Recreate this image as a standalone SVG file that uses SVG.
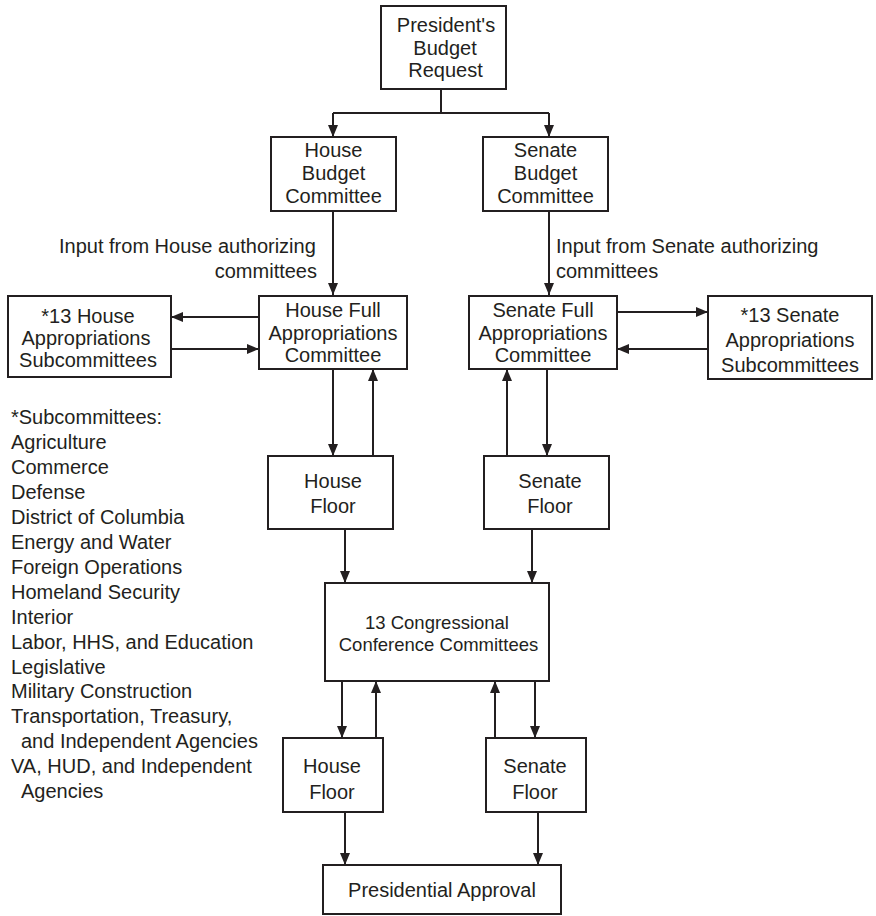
<svg xmlns="http://www.w3.org/2000/svg" width="876" height="916" viewBox="0 0 876 916">
<style>
.box{fill:#fff;stroke:#231f20;stroke-width:2}
text{font-family:"Liberation Sans",Arial,sans-serif;font-size:20px;fill:#231f20}
.c{text-anchor:middle}
.sm{font-size:18.5px}
.ln{stroke:#231f20;stroke-width:2;fill:none}
.ar{marker-end:url(#ah)}
</style>
<defs>
<marker id="ah" markerUnits="userSpaceOnUse" markerWidth="12" markerHeight="10" refX="12" refY="5" orient="auto">
<path d="M0,0 L12,5 L0,10 z" fill="#231f20"/>
</marker>
</defs>
<rect width="876" height="916" fill="#fff"/>
<g id="connectors">
<path class="ln" d="M441,89 V113 M333,113 H549"/>
<path class="ln ar" d="M333,113 V137"/>
<path class="ln ar" d="M549,113 V137"/>
<path class="ln ar" d="M333,211 V295"/>
<path class="ln ar" d="M549,211 V295"/>
<path class="ln ar" d="M259,317 H171"/>
<path class="ln ar" d="M171,349 H259"/>
<path class="ln ar" d="M617,312 H708"/>
<path class="ln ar" d="M708,349 H617"/>
<path class="ln ar" d="M333,369 V456"/>
<path class="ln ar" d="M373,456 V369"/>
<path class="ln ar" d="M507,456 V369"/>
<path class="ln ar" d="M547,369 V456"/>
<path class="ln ar" d="M345,529 V583"/>
<path class="ln ar" d="M532,529 V583"/>
<path class="ln ar" d="M342,681 V738"/>
<path class="ln ar" d="M376,738 V681"/>
<path class="ln ar" d="M495,738 V681"/>
<path class="ln ar" d="M535,681 V738"/>
<path class="ln ar" d="M345,812 V865"/>
<path class="ln ar" d="M538,812 V865"/>
</g>
<g id="president">
<rect class="box" x="381" y="6" width="125" height="83"/>
<text class="c" x="446" y="32">President's</text>
<text class="c" x="445" y="54.5">Budget</text>
<text class="c" x="445.5" y="77">Request</text>
</g>
<g id="house-budget">
<rect class="box" x="271" y="137" width="125" height="74"/>
<text class="c" x="333.5" y="157">House</text>
<text class="c" x="333.5" y="180">Budget</text>
<text class="c" x="333.5" y="203">Committee</text>
</g>
<g id="senate-budget">
<rect class="box" x="483" y="137" width="125" height="74"/>
<text class="c" x="545.5" y="157">Senate</text>
<text class="c" x="545.5" y="180">Budget</text>
<text class="c" x="545.5" y="203">Committee</text>
</g>
<g id="house-input">
<text x="59" y="253">Input from House authorizing</text>
<text x="317" y="278" text-anchor="end">committees</text>
</g>
<g id="senate-input">
<text x="556" y="253">Input from Senate authorizing</text>
<text x="556" y="278">committees</text>
</g>
<g id="house-sub">
<rect class="box" x="8" y="296" width="163" height="81"/>
<text class="c" x="88" y="323">*13 House</text>
<text class="c" x="86" y="345">Appropriations</text>
<text class="c" x="88" y="367">Subcommittees</text>
</g>
<g id="house-full">
<rect class="box" x="259" y="296" width="148" height="73"/>
<text class="c" x="333" y="317">House Full</text>
<text class="c" x="333" y="339.5">Appropriations</text>
<text class="c" x="333" y="362">Committee</text>
</g>
<g id="senate-full">
<rect class="box" x="469" y="296" width="148" height="73"/>
<text class="c" x="543" y="317">Senate Full</text>
<text class="c" x="543" y="339.5">Appropriations</text>
<text class="c" x="543" y="362">Committee</text>
</g>
<g id="senate-sub">
<rect class="box" x="708" y="296" width="164" height="83"/>
<text class="c" x="790" y="322">*13 Senate</text>
<text class="c" x="790" y="347">Appropriations</text>
<text class="c" x="790" y="372">Subcommittees</text>
</g>
<g id="house-floor-1">
<rect class="box" x="268" y="456" width="125" height="73"/>
<text class="c" x="333" y="488">House</text>
<text class="c" x="333" y="513">Floor</text>
</g>
<g id="senate-floor-1">
<rect class="box" x="484" y="456" width="125" height="73"/>
<text class="c" x="550" y="488">Senate</text>
<text class="c" x="550" y="513">Floor</text>
</g>
<g id="conference">
<rect class="box" x="325" y="583" width="224" height="98"/>
<text class="c sm" x="437" y="629">13 Congressional</text>
<text class="c sm" x="438.5" y="651">Conference Committees</text>
</g>
<g id="house-floor-2">
<rect class="box" x="283" y="738" width="100" height="74"/>
<text class="c" x="332" y="773">House</text>
<text class="c" x="332" y="799">Floor</text>
</g>
<g id="senate-floor-2">
<rect class="box" x="486" y="738" width="100" height="74"/>
<text class="c" x="535" y="773">Senate</text>
<text class="c" x="535" y="799">Floor</text>
</g>
<g id="approval">
<rect class="box" x="323" y="865" width="238" height="49"/>
<text class="c" x="442" y="897">Presidential Approval</text>
</g>
<g id="subcommittee-list">
<text x="11" y="424">*Subcommittees:</text>
<text x="11" y="449">Agriculture</text>
<text x="11" y="474">Commerce</text>
<text x="11" y="499">Defense</text>
<text x="11" y="524">District of Columbia</text>
<text x="11" y="549">Energy and Water</text>
<text x="11" y="574">Foreign Operations</text>
<text x="11" y="599">Homeland Security</text>
<text x="11" y="624">Interior</text>
<text x="11" y="648.5">Labor, HHS, and Education</text>
<text x="11" y="673.5">Legislative</text>
<text x="11" y="698">Military Construction</text>
<text x="11" y="723">Transportation, Treasury,</text>
<text x="21" y="748">and Independent Agencies</text>
<text x="11" y="773">VA, HUD, and Independent</text>
<text x="21" y="798">Agencies</text>
</g>
</svg>
